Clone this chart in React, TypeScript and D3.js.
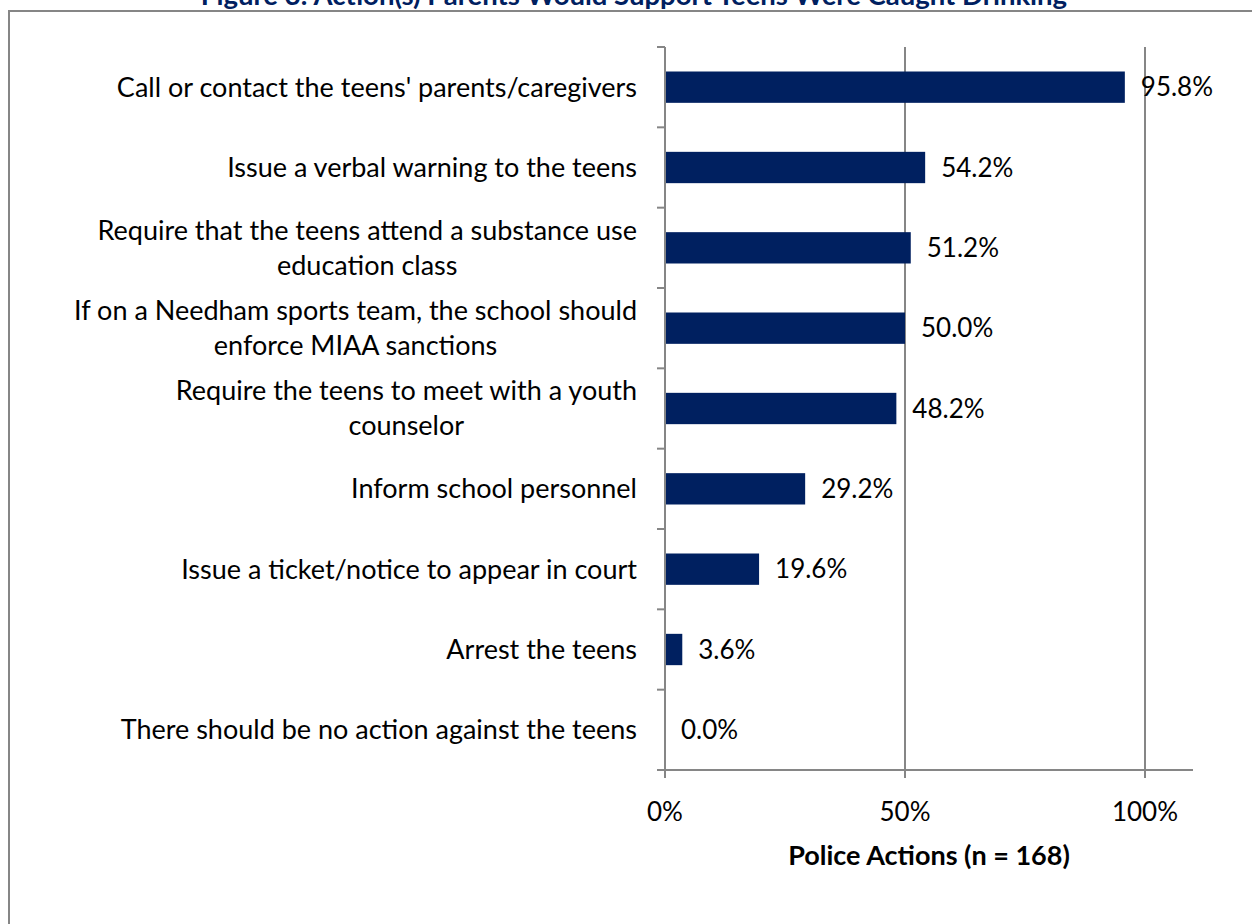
import React, { useEffect, useRef } from "react";
import * as d3 from "d3";

const categories: string[][] = [
  ["Call or contact the teens' parents/caregivers"],
  ["Issue a verbal warning to the teens"],
  ["Require that the teens attend a substance use", "education class"],
  ["If on a Needham sports team, the school should", "enforce MIAA sanctions"],
  ["Require the teens to meet with a youth", "counselor"],
  ["Inform school personnel"],
  ["Issue a ticket/notice to appear in court"],
  ["Arrest the teens"],
  ["There should be no action against the teens"],
];
const values: number[] = [95.8, 54.2, 51.2, 50.0, 48.2, 29.2, 19.6, 3.6, 0.0];
const xTicks: number[] = [0, 50, 100];
const title = "Figure 3: Action(s) Parents Would Support Teens Were Caught Drinking";
const xTitle = "Police Actions (n = 168)";

const W = 1252;
const H = 924;
const FONT = "Lato, 'Open Sans', sans-serif";

export default function App() {
  const ref = useRef<SVGSVGElement>(null);

  useEffect(() => {
    const svg = d3.select(ref.current);
    svg.selectAll("*").remove();

    const left = 665, right = 1193, top = 47, bottom = 770;
    const x = d3.scaleLinear().domain([0, 110]).range([left, right]);
    const y = d3
      .scaleBand<number>()
      .domain(d3.range(categories.length))
      .range([top, bottom])
      .paddingInner(0.61)
      .paddingOuter(0.305);

    const gray = "#868686";
    const navy = "#002060";

    // outer border
    svg.append("rect")
      .attr("x", 9).attr("y", 11).attr("width", W).attr("height", H)
      .attr("fill", "none").attr("stroke", gray).attr("stroke-width", 2);

    // title (partly clipped at top, as in the reference)
    svg.append("text")
      .attr("x", 634).attr("y", 5)
      .attr("text-anchor", "middle")
      .attr("font-family", FONT).attr("font-weight", "bold")
      .attr("font-size", 27.5).attr("fill", navy)
      .text(title);

    // gridlines
    svg.append("g").selectAll("line")
      .data(xTicks.filter((t) => t > 0))
      .join("line")
      .attr("x1", (d) => x(d)).attr("x2", (d) => x(d))
      .attr("y1", top).attr("y2", bottom)
      .attr("stroke", gray).attr("stroke-width", 2);

    // bars
    svg.append("g").selectAll("rect")
      .data(values)
      .join("rect")
      .attr("x", x(0))
      .attr("y", (_, i) => y(i)!)
      .attr("width", (d) => x(d) - x(0))
      .attr("height", y.bandwidth())
      .attr("fill", navy);

    // value labels
    svg.append("g").selectAll("text")
      .data(values)
      .join("text")
      .attr("x", (d) => x(d) + 16)
      .attr("y", (_, i) => y(i)! + y.bandwidth() / 2)
      .attr("dy", "0.35em")
      .attr("font-family", FONT).attr("font-size", 26).attr("fill", "#000")
      .text((d) => d.toFixed(1) + "%");

    // y axis line and ticks
    svg.append("line")
      .attr("x1", left).attr("x2", left).attr("y1", top).attr("y2", bottom + 8)
      .attr("stroke", gray).attr("stroke-width", 2);
    const boundaries = d3.range(categories.length + 1).map((i) => top + i * y.step());
    svg.append("g").selectAll("line")
      .data(boundaries)
      .join("line")
      .attr("x1", left - 8).attr("x2", left)
      .attr("y1", (d) => d).attr("y2", (d) => d)
      .attr("stroke", gray).attr("stroke-width", 2);

    // x axis line and ticks
    svg.append("line")
      .attr("x1", left - 8).attr("x2", right).attr("y1", bottom).attr("y2", bottom)
      .attr("stroke", gray).attr("stroke-width", 2);
    svg.append("g").selectAll("line")
      .data(xTicks)
      .join("line")
      .attr("x1", (d) => x(d)).attr("x2", (d) => x(d))
      .attr("y1", bottom).attr("y2", bottom + 8)
      .attr("stroke", gray).attr("stroke-width", 2);
    svg.append("g").selectAll("text")
      .data(xTicks)
      .join("text")
      .attr("x", (d) => x(d))
      .attr("y", 812)
      .attr("dy", "0.35em")
      .attr("text-anchor", "middle")
      .attr("font-family", FONT).attr("font-size", 26).attr("fill", "#000")
      .text((d) => d + "%");

    svg.append("text")
      .attr("x", (left + right) / 2).attr("y", 856)
      .attr("dy", "0.35em")
      .attr("text-anchor", "middle")
      .attr("font-family", FONT).attr("font-weight", "bold")
      .attr("font-size", 27).attr("fill", "#000")
      .text(xTitle);

    // category labels: block right-aligned, lines centred within block
    const labelRight = 637;
    const lineH = 35;
    categories.forEach((lines, i) => {
      const g = svg.append("g");
      const cy = y(i)! + y.bandwidth() / 2;
      const texts = lines.map((ln, j) =>
        g.append("text")
          .attr("y", cy + (j - (lines.length - 1) / 2) * lineH)
          .attr("dy", "0.35em")
          .attr("text-anchor", "middle")
          .attr("font-family", FONT).attr("font-size", 27).attr("fill", "#000")
          .text(ln)
      );
      const widths = texts.map((t) => (t.node() as SVGTextElement).getComputedTextLength());
      const maxW = Math.max(...widths);
      texts.forEach((t) => t.attr("x", labelRight - maxW / 2));
    });
  }, []);

  return (
    <svg
      ref={ref}
      width={W}
      height={H}
      style={{ position: "absolute", left: 0, top: 0, background: "#fff" }}
    />
  );
}
